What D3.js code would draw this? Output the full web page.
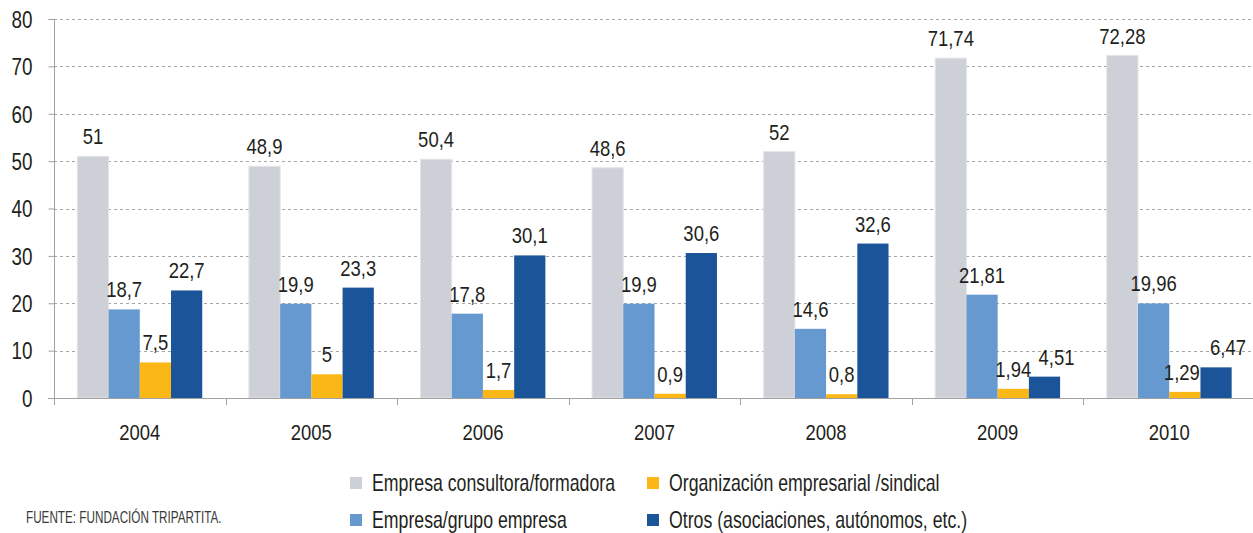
<!DOCTYPE html>
<html>
<head>
<meta charset="utf-8">
<script src="https://cdn.jsdelivr.net/npm/d3@7"></script>
<style>
body { margin: 0; background: #fff; }
svg text { font-family: "Liberation Sans", Arial, sans-serif; fill: #231f20; }
</style>
</head>
<body>
<main></main>
<script>
const years = ["2004", "2005", "2006", "2007", "2008", "2009", "2010"];
const seriesNames = ["Empresa consultora/formadora", "Empresa/grupo empresa", "Organización empresarial /sindical", "Otros (asociaciones, autónomos, etc.)"];
const consultora = [51, 48.9, 50.4, 48.6, 52, 71.74, 72.28];
const grupo = [18.7, 19.9, 17.8, 19.9, 14.6, 21.81, 19.96];
const organizacion = [7.5, 5, 1.7, 0.9, 0.8, 1.94, 1.29];
const otros = [22.7, 23.3, 30.1, 30.6, 32.6, 4.51, 6.47];
const yTicks = [0, 10, 20, 30, 40, 50, 60, 70, 80];
const colors = ["#cdd0d7", "#6699d0", "#fbb715", "#1b5499"];

const allSeries = [consultora, grupo, organizacion, otros];

const w = 1253, h = 533,
	plotLeft = 54, plotRight = 1255, plotTop = 19, plotBottom = 398;

// labels moved sideways so they don't collide (year-series)
const labelNudge = {"2009-3": 12, "2010-2": -3, "2010-3": 12};

// the original uses a condensed face, so texts are squeezed horizontally
const narrow = (x, y, sx) => "translate(" + x + "," + y + ") scale(" + sx + ",1)";

const svg = d3.select("main")
	.append("svg")
	.attr("width", w)
	.attr("height", h);

const yScale = d3.scaleLinear()
	.domain([0, 80])
	.range([plotBottom, plotTop]);

const x0 = d3.scaleBand()
	.domain(years)
	.range([plotLeft, plotRight])
	.paddingInner(0.272)
	.paddingOuter(0.136);

const x1 = d3.scaleBand()
	.domain(d3.range(seriesNames.length))
	.range([0, x0.bandwidth()]);

// grid lines
svg.append("g")
	.selectAll("line")
	.data(yTicks.filter(d => d > 0))
	.enter()
	.append("line")
	.attr("x1", plotLeft)
	.attr("x2", w)
	.attr("y1", d => Math.round(yScale(d)) + 0.5)
	.attr("y2", d => Math.round(yScale(d)) + 0.5)
	.attr("stroke", "#a6a6a6")
	.attr("stroke-dasharray", "3,3");

// bars
const groups = svg.append("g")
	.selectAll("g")
	.data(years)
	.enter()
	.append("g")
	.attr("transform", d => "translate(" + x0(d) + ",0)");

groups.selectAll("rect")
	.data((d, i) => allSeries.map((s, k) => ({k: k, v: s[i]})))
	.enter()
	.append("rect")
	.attr("x", d => x1(d.k))
	.attr("y", d => yScale(d.v))
	.attr("width", x1.bandwidth())
	.attr("height", d => plotBottom - yScale(d.v))
	.attr("fill", d => colors[d.k])
	.attr("stroke", d => d.k === 0 ? "#e2e4e8" : "none")
	.attr("stroke-width", 1);

groups.selectAll("text")
	.data((d, i) => allSeries.map((s, k) => ({k: k, v: s[i], key: d + "-" + k})))
	.enter()
	.append("text")
	.attr("transform", d => narrow(x1(d.k) + x1.bandwidth() / 2 + (labelNudge[d.key] || 0), yScale(d.v) - 12, 0.84))
	.attr("text-anchor", "middle")
	.style("font-size", "22px")
	.text(d => String(d.v).replace(".", ","));

// y axis
const yAxis = d3.axisLeft(yScale).tickValues(yTicks).tickSize(6).tickPadding(16);
const gy = svg.append("g")
	.attr("transform", "translate(" + (plotLeft + 0.5) + ",0)")
	.call(yAxis);
gy.attr("font-family", null).attr("font-size", null);
gy.select(".domain").attr("stroke", "#a0a0a0").attr("d", "M-6," + (yScale(80) + 0.5) + "H0V" + (plotBottom + 0.5));
gy.selectAll(".tick line").attr("stroke", "#a0a0a0");
gy.selectAll(".tick text")
	.attr("x", -22 / 0.82)
	.attr("dy", "0.36em")
	.attr("transform", "scale(0.82,1)")
	.style("font-size", "23px");

// x axis
svg.append("line")
	.attr("x1", plotLeft - 6)
	.attr("x2", w)
	.attr("y1", plotBottom + 0.5)
	.attr("y2", plotBottom + 0.5)
	.attr("stroke", "#a0a0a0");

svg.append("g")
	.selectAll("line")
	.data(years.concat(["end"]))
	.enter()
	.append("line")
	.attr("x1", (d, i) => Math.round(plotLeft + i * x0.step()) + 0.5)
	.attr("x2", (d, i) => Math.round(plotLeft + i * x0.step()) + 0.5)
	.attr("y1", plotBottom)
	.attr("y2", plotBottom + 7)
	.attr("stroke", "#a0a0a0");

svg.append("g")
	.selectAll("text")
	.data(years)
	.enter()
	.append("text")
	.attr("transform", d => narrow(x0(d) + x0.bandwidth() / 2, 440, 0.84))
	.attr("text-anchor", "middle")
	.style("font-size", "22px")
	.text(d => d);

// legend
const legendPos = [[350, 491], [350, 528], [647, 491], [647, 528]];
const legend = svg.append("g")
	.selectAll("g")
	.data(seriesNames)
	.enter()
	.append("g")
	.attr("transform", (d, i) => "translate(" + legendPos[i][0] + "," + legendPos[i][1] + ")");

legend.append("rect")
	.attr("x", 0)
	.attr("y", -14)
	.attr("width", 12)
	.attr("height", 12)
	.attr("fill", (d, i) => colors[i]);

legend.append("text")
	.attr("transform", narrow(22, 0, 0.77))
	.style("font-size", "23px")
	.text(d => d);

svg.append("text")
	.attr("transform", narrow(26, 523, 0.71))
	.style("font-size", "16.5px")
	.style("fill", "#3a3a3a")
	.text("FUENTE: FUNDACIÓN TRIPARTITA.");
</script>
</body>
</html>
